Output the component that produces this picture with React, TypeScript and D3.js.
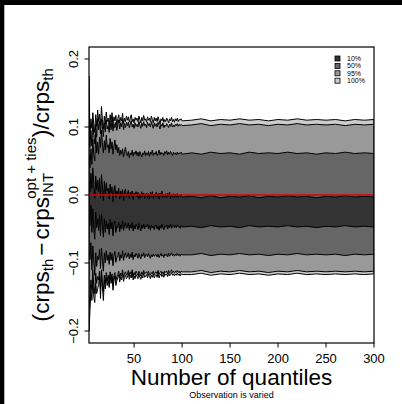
import React from "react";
import * as d3 from "d3";

// Number of quantiles (x)
const quantiles = [
  3, 4, 5, 6, 7, 8, 9, 10, 11, 12,
  13, 14, 15, 16, 17, 18, 19, 20, 21, 22,
  23, 24, 25, 26, 27, 28, 29, 30, 31, 32,
  33, 34, 35, 36, 37, 38, 39, 40, 41, 42,
  43, 44, 45, 46, 47, 48, 49, 50, 51, 52,
  53, 54, 55, 56, 57, 58, 59, 60, 61, 62,
  63, 64, 65, 66, 67, 68, 69, 70, 71, 72,
  73, 74, 75, 76, 77, 78, 79, 80, 81, 82,
  83, 84, 85, 86, 87, 88, 89, 90, 91, 92,
  93, 94, 95, 96, 97, 98, 99, 100,
  110, 120, 130, 140, 150, 160, 170, 180, 190, 200,
  210, 220, 230, 240, 250, 260, 270, 280, 290, 300,
];

const upper100 = [
  0.175, 0.085, 0.112, 0.098, 0.121, 0.105, 0.092, 0.118, 0.101, 0.125,
  0.108, 0.119, 0.102, 0.130, 0.111, 0.097, 0.116, 0.104, 0.122, 0.108,
  0.113, 0.101, 0.118, 0.107, 0.121, 0.104, 0.115, 0.109, 0.117, 0.103,
  0.112, 0.118, 0.106, 0.114, 0.109, 0.120, 0.105, 0.113, 0.108, 0.116,
  0.110, 0.115, 0.107, 0.113, 0.118, 0.108, 0.112, 0.106, 0.114, 0.110,
  0.113, 0.108, 0.116, 0.111, 0.106, 0.114, 0.109, 0.117, 0.110, 0.112,
  0.107, 0.115, 0.110, 0.113, 0.108, 0.116, 0.111, 0.106, 0.114, 0.109,
  0.113, 0.108, 0.115, 0.110, 0.104, 0.112, 0.109, 0.114, 0.107, 0.111,
  0.108, 0.113, 0.110, 0.106, 0.112, 0.109, 0.114, 0.108, 0.111, 0.107,
  0.112, 0.109, 0.113, 0.108, 0.111, 0.110, 0.112, 0.109,
  0.110, 0.112, 0.109, 0.111, 0.110, 0.112, 0.110, 0.111, 0.109, 0.111,
  0.110, 0.112, 0.110, 0.111, 0.110, 0.111, 0.109, 0.111, 0.110, 0.111,
];

const upper95 = [
  0.120, 0.070, 0.095, 0.072, 0.110, 0.088, 0.075, 0.104, 0.085, 0.112,
  0.096, 0.108, 0.090, 0.112, 0.100, 0.086, 0.106, 0.093, 0.110, 0.097,
  0.102, 0.092, 0.108, 0.096, 0.110, 0.094, 0.105, 0.099, 0.107, 0.095,
  0.103, 0.110, 0.097, 0.106, 0.100, 0.111, 0.096, 0.105, 0.099, 0.107,
  0.102, 0.107, 0.099, 0.105, 0.109, 0.100, 0.104, 0.098, 0.106, 0.101,
  0.104, 0.100, 0.108, 0.103, 0.098, 0.106, 0.101, 0.108, 0.102, 0.104,
  0.099, 0.107, 0.102, 0.105, 0.100, 0.108, 0.103, 0.098, 0.106, 0.101,
  0.105, 0.100, 0.107, 0.102, 0.097, 0.104, 0.101, 0.106, 0.099, 0.103,
  0.101, 0.105, 0.102, 0.099, 0.104, 0.101, 0.106, 0.100, 0.103, 0.100,
  0.104, 0.102, 0.105, 0.101, 0.104, 0.102, 0.104, 0.102,
  0.103, 0.105, 0.102, 0.104, 0.103, 0.105, 0.103, 0.104, 0.102, 0.104,
  0.103, 0.105, 0.103, 0.104, 0.103, 0.104, 0.102, 0.104, 0.103, 0.104,
];

const upper50 = [
  0.060, 0.040, 0.068, 0.045, 0.082, 0.058, 0.050, 0.090, 0.062, 0.078,
  0.060, 0.085, 0.070, 0.095, 0.075, 0.062, 0.080, 0.066, 0.088, 0.070,
  0.074, 0.062, 0.083, 0.068, 0.078, 0.060, 0.072, 0.081, 0.066, 0.074,
  0.062, 0.070, 0.058, 0.066, 0.060, 0.068, 0.056, 0.064, 0.070, 0.061,
  0.058, 0.064, 0.055, 0.062, 0.059, 0.066, 0.057, 0.063, 0.060, 0.065,
  0.058, 0.063, 0.057, 0.064, 0.060, 0.056, 0.062, 0.059, 0.065, 0.058,
  0.062, 0.059, 0.064, 0.057, 0.063, 0.060, 0.066, 0.058, 0.062, 0.060,
  0.064, 0.058, 0.061, 0.066, 0.059, 0.063, 0.060, 0.062, 0.058, 0.064,
  0.061, 0.065, 0.059, 0.063, 0.060, 0.064, 0.061, 0.058, 0.063, 0.060,
  0.062, 0.059, 0.063, 0.060, 0.062, 0.061, 0.063, 0.060,
  0.062, 0.060, 0.063, 0.061, 0.062, 0.060, 0.063, 0.061, 0.062, 0.061,
  0.063, 0.061, 0.062, 0.060, 0.062, 0.061, 0.063, 0.061, 0.062, 0.061,
];

const upper10 = [
  0.020, 0.005, 0.032, 0.010, 0.040, 0.015, -0.005, 0.028, 0.008, 0.022,
  0.005, 0.025, -0.004, 0.030, 0.012, -0.008, 0.020, 0.002, 0.018, 0.006,
  0.010, -0.006, 0.016, 0.003, 0.012, -0.010, 0.008, 0.014, -0.004, 0.006,
  0.002, 0.010, -0.006, 0.006, -0.002, 0.008, -0.008, 0.004, 0.009, -0.003,
  0.001, 0.007, -0.005, 0.004, -0.002, 0.006, -0.007, 0.003, -0.001, 0.005,
  -0.003, 0.004, -0.006, 0.002, -0.004, 0.005, -0.002, 0.003, -0.005, 0.001,
  0.003, -0.004, 0.002, -0.006, 0.004, -0.002, 0.005, -0.005, 0.001, -0.003,
  0.004, -0.003, 0.002, -0.006, 0.003, -0.002, 0.006, -0.004, 0.001, -0.003,
  0.002, -0.004, 0.003, -0.002, 0.004, -0.005, 0.001, -0.003, 0.002, -0.004,
  0.001, -0.003, 0.002, -0.004, 0.000, -0.002, 0.001, -0.003,
  -0.002, -0.004, -0.001, -0.004, -0.002, -0.003, -0.001, -0.004, -0.002, -0.003,
  -0.001, -0.003, -0.002, -0.004, -0.002, -0.003, -0.001, -0.003, -0.002, -0.003,
];

const lower10 = [
  -0.030, -0.045, -0.015, -0.055, -0.020, -0.050, -0.065, -0.025, -0.048, -0.035,
  -0.052, -0.030, -0.060, -0.028, -0.045, -0.062, -0.035, -0.055, -0.038, -0.050,
  -0.042, -0.058, -0.036, -0.050, -0.040, -0.060, -0.044, -0.038, -0.055, -0.046,
  -0.048, -0.040, -0.054, -0.044, -0.050, -0.038, -0.052, -0.046, -0.041, -0.049,
  -0.047, -0.041, -0.052, -0.044, -0.049, -0.040, -0.053, -0.045, -0.050, -0.043,
  -0.046, -0.051, -0.042, -0.048, -0.053, -0.044, -0.049, -0.043, -0.050, -0.045,
  -0.047, -0.043, -0.050, -0.045, -0.052, -0.044, -0.048, -0.046, -0.051, -0.045,
  -0.044, -0.050, -0.046, -0.052, -0.045, -0.049, -0.043, -0.048, -0.051, -0.046,
  -0.047, -0.044, -0.050, -0.045, -0.048, -0.043, -0.049, -0.046, -0.044, -0.048,
  -0.045, -0.048, -0.044, -0.047, -0.046, -0.049, -0.045, -0.047,
  -0.046, -0.048, -0.045, -0.047, -0.046, -0.048, -0.045, -0.047, -0.046, -0.047,
  -0.045, -0.047, -0.046, -0.048, -0.046, -0.047, -0.045, -0.047, -0.046, -0.047,
];

const lower50 = [
  -0.080, -0.095, -0.070, -0.110, -0.075, -0.100, -0.118, -0.085, -0.105, -0.090,
  -0.095, -0.080, -0.108, -0.078, -0.098, -0.112, -0.085, -0.100, -0.082, -0.096,
  -0.088, -0.102, -0.084, -0.096, -0.086, -0.104, -0.090, -0.083, -0.099, -0.092,
  -0.091, -0.084, -0.097, -0.088, -0.093, -0.082, -0.096, -0.089, -0.085, -0.092,
  -0.090, -0.085, -0.094, -0.087, -0.092, -0.084, -0.095, -0.088, -0.091, -0.086,
  -0.089, -0.093, -0.086, -0.091, -0.094, -0.087, -0.090, -0.085, -0.092, -0.088,
  -0.087, -0.091, -0.086, -0.090, -0.093, -0.088, -0.091, -0.087, -0.090, -0.088,
  -0.088, -0.091, -0.087, -0.092, -0.089, -0.086, -0.090, -0.088, -0.092, -0.087,
  -0.089, -0.087, -0.091, -0.086, -0.090, -0.088, -0.085, -0.089, -0.087, -0.090,
  -0.087, -0.089, -0.086, -0.089, -0.087, -0.090, -0.087, -0.088,
  -0.088, -0.086, -0.089, -0.087, -0.088, -0.086, -0.088, -0.087, -0.089, -0.087,
  -0.088, -0.086, -0.088, -0.087, -0.088, -0.087, -0.089, -0.087, -0.088, -0.087,
];

const lower95 = [
  -0.165, -0.150, -0.125, -0.140, -0.110, -0.135, -0.145, -0.115, -0.130, -0.120,
  -0.125, -0.112, -0.138, -0.110, -0.128, -0.142, -0.118, -0.130, -0.114, -0.126,
  -0.118, -0.128, -0.113, -0.124, -0.116, -0.131, -0.119, -0.114, -0.126, -0.120,
  -0.117, -0.112, -0.122, -0.115, -0.119, -0.110, -0.121, -0.116, -0.113, -0.118,
  -0.116, -0.111, -0.119, -0.113, -0.117, -0.110, -0.120, -0.114, -0.118, -0.112,
  -0.115, -0.118, -0.112, -0.116, -0.119, -0.113, -0.117, -0.111, -0.116, -0.114,
  -0.113, -0.117, -0.112, -0.116, -0.118, -0.114, -0.116, -0.112, -0.117, -0.114,
  -0.113, -0.116, -0.111, -0.117, -0.114, -0.112, -0.116, -0.113, -0.117, -0.112,
  -0.114, -0.112, -0.116, -0.111, -0.115, -0.113, -0.110, -0.114, -0.112, -0.115,
  -0.112, -0.114, -0.111, -0.114, -0.112, -0.115, -0.112, -0.113,
  -0.113, -0.111, -0.114, -0.112, -0.113, -0.111, -0.113, -0.112, -0.114, -0.112,
  -0.113, -0.111, -0.113, -0.112, -0.113, -0.112, -0.113, -0.112, -0.113, -0.112,
];

const lower100 = [
  -0.200, -0.170, -0.140, -0.155, -0.125, -0.150, -0.158, -0.130, -0.145, -0.138,
  -0.132, -0.120, -0.152, -0.118, -0.135, -0.155, -0.125, -0.138, -0.121, -0.133,
  -0.124, -0.136, -0.118, -0.130, -0.121, -0.140, -0.125, -0.119, -0.133, -0.126,
  -0.122, -0.117, -0.128, -0.120, -0.125, -0.115, -0.127, -0.121, -0.118, -0.123,
  -0.121, -0.115, -0.124, -0.118, -0.122, -0.114, -0.125, -0.119, -0.123, -0.117,
  -0.120, -0.123, -0.116, -0.121, -0.124, -0.118, -0.122, -0.115, -0.121, -0.119,
  -0.117, -0.122, -0.116, -0.120, -0.123, -0.118, -0.121, -0.116, -0.122, -0.118,
  -0.117, -0.121, -0.115, -0.122, -0.118, -0.116, -0.120, -0.117, -0.121, -0.116,
  -0.118, -0.116, -0.120, -0.115, -0.119, -0.117, -0.114, -0.118, -0.116, -0.119,
  -0.116, -0.118, -0.115, -0.118, -0.116, -0.119, -0.116, -0.117,
  -0.117, -0.115, -0.118, -0.116, -0.117, -0.115, -0.117, -0.116, -0.118, -0.116,
  -0.117, -0.115, -0.117, -0.116, -0.117, -0.116, -0.117, -0.116, -0.117, -0.116,
];

const xTicks = [50, 100, 150, 200, 250, 300];
const yTicks = [-0.2, -0.1, 0, 0.1, 0.2];
const yTickLabels = ["\u22120.2", "\u22120.1", "0.0", "0.1", "0.2"];
const legendLabels = ["10%", "50%", "95%", "100%"];
const legendColors = ["#333333", "#666666", "#999999", "#cccccc"];

const FONT = "'Liberation Sans', Arial, Helvetica, sans-serif";

export default function App() {
  const W = 402;
  const H = 404;
  const left = 89;
  const right = 374;
  const top = 47;
  const bottom = 343;

  const x = d3.scaleLinear().domain([3, 300]).range([left, right]);
  const y = d3.scaleLinear().domain([-0.2176, 0.2176]).range([bottom, top]);

  const bands = [
    { lo: lower100, hi: upper100, fill: "#cccccc" },
    { lo: lower95, hi: upper95, fill: "#999999" },
    { lo: lower50, hi: upper50, fill: "#666666" },
    { lo: lower10, hi: upper10, fill: "#333333" },
  ];

  const idx = quantiles.map((_, i) => i);

  const makeArea = (lo: number[], hi: number[]) =>
    d3
      .area<number>()
      .x((i) => x(quantiles[i]))
      .y0((i) => y(lo[i]))
      .y1((i) => y(hi[i]))(idx) || "";

  const legendX = 335;
  const legendY0 = 58.5;
  const legendStep = 7.4;

  return (
    <svg
      width={W}
      height={H}
      style={{ position: "absolute", left: 0, top: 0, background: "#ffffff" }}
      fontFamily={FONT}
    >
      <rect x={0} y={0} width={W} height={H} fill="#ffffff" />
      <defs>
        <clipPath id="plotclip">
          <rect x={left} y={top} width={right - left} height={bottom - top} />
        </clipPath>
      </defs>

      <g clipPath="url(#plotclip)">
        {bands.map((b, k) => (
          <path
            key={k}
            d={makeArea(b.lo, b.hi)}
            fill={b.fill}
            stroke="#000000"
            strokeWidth={1}
            strokeLinejoin="round"
          />
        ))}
        <line
          x1={left}
          x2={right}
          y1={y(0)}
          y2={y(0)}
          stroke="#e00000"
          strokeWidth={1.6}
        />
      </g>

      {/* plot box */}
      <rect
        x={left}
        y={top}
        width={right - left}
        height={bottom - top}
        fill="none"
        stroke="#000000"
        strokeWidth={1.2}
      />

      {/* x axis */}
      {xTicks.map((t) => (
        <g key={t}>
          <line x1={x(t)} x2={x(t)} y1={bottom} y2={bottom + 4.5} stroke="#000" strokeWidth={1} />
          <text x={x(t)} y={363} textAnchor="middle" fontSize={13}>
            {t}
          </text>
        </g>
      ))}

      {/* y axis */}
      {yTicks.map((t, i) => (
        <g key={t}>
          <line x1={left - 4.5} x2={left} y1={y(t)} y2={y(t)} stroke="#000" strokeWidth={1} />
          <text
            transform={`translate(78,${y(t)}) rotate(-90)`}
            textAnchor="middle"
            fontSize={13}
          >
            {yTickLabels[i]}
          </text>
        </g>
      ))}

      {/* axis titles */}
      <text x={(left + right) / 2} y={384.5} textAnchor="middle" fontSize={22.5}>
        Number of quantiles
      </text>
      <text x={(left + right) / 2} y={398} textAnchor="middle" fontSize={9}>
        Observation is varied
      </text>

      <text
        transform={`translate(48.5,${(top + bottom) / 2}) rotate(-90)`}
        textAnchor="middle"
        fontSize={22.5}
      >
        <tspan fontSize={24}>(</tspan>
        <tspan>crps</tspan>
        <tspan fontSize={15} dy={4.5}>th</tspan>
        <tspan dy={-4.5} dx={3}>{"\u2212"}</tspan>
        <tspan dx={3}>crps</tspan>
        <tspan fontSize={15} dy={4.5}>INT</tspan>
        <tspan fontSize={15} dx={-24.2} dy={-17.5}>opt + ties</tspan>
        <tspan fontSize={24} dy={13}>)</tspan>
        <tspan>/</tspan>
        <tspan>crps</tspan>
        <tspan fontSize={15} dy={4.5}>th</tspan>
      </text>

      {/* legend */}
      {legendLabels.map((lab, i) => (
        <g key={lab}>
          <rect
            x={legendX}
            y={legendY0 + i * legendStep - 2.5}
            width={5}
            height={5}
            fill={legendColors[i]}
            stroke="#000"
            strokeWidth={0.8}
          />
          <text x={legendX + 12} y={legendY0 + i * legendStep + 2.5} fontSize={7}>
            {lab}
          </text>
        </g>
      ))}

      {/* black frame strips */}
      <rect x={0} y={0} width={W} height={5} fill="#000000" />
      <rect x={0} y={0} width={4.3} height={H} fill="#000000" />
    </svg>
  );
}
